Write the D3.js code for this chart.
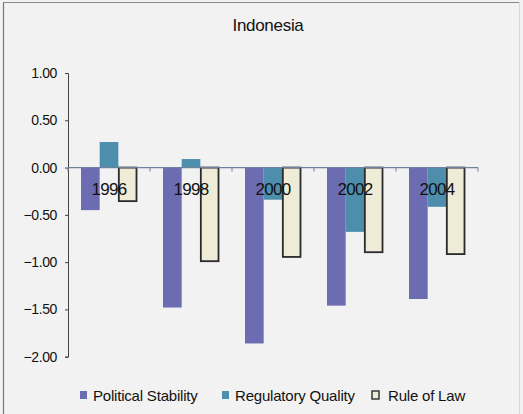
<!DOCTYPE html>
<html>
<head>
<meta charset="utf-8">
<script src="https://cdn.jsdelivr.net/npm/d3@7/dist/d3.min.js"></script>
<style>
  html, body { margin: 0; padding: 0; background: #f4f4f4; }
  svg text { font-family: "Liberation Sans", Arial, sans-serif; fill: #111; }
</style>
</head>
<body>
<svg id="chart" width="523" height="414"></svg>
<script>
// Governance indicators for Indonesia, by survey year
const years = ["1996", "1998", "2000", "2002", "2004"];
const seriesNames = ["Political Stability", "Regulatory Quality", "Rule of Law"];
const politicalStability = [-0.45, -1.48, -1.86, -1.46, -1.39];
const regulatoryQuality = [0.27, 0.09, -0.34, -0.68, -0.415];
const ruleOfLaw = [-0.355, -0.99, -0.945, -0.895, -0.915];
const yTicks = [1.0, 0.5, 0.0, -0.5, -1.0, -1.5, -2.0];

const seriesValues = [politicalStability, regulatoryQuality, ruleOfLaw];
const fills = ["#6c6cb2", "#4d8ead", "#eeecd6"];
const strokes = [null, null, "#2a2a2a"];

const svg = d3.select("#chart");

// panel background and frame
svg.append("rect").attr("x", 0).attr("y", 0).attr("width", 523).attr("height", 414).attr("fill", "#f2f2f2");
svg.append("line").attr("x1", 3.5).attr("x2", 3.5).attr("y1", 2).attr("y2", 414).attr("stroke", "#777").attr("stroke-width", 1.2);
svg.append("line").attr("x1", 3).attr("x2", 519).attr("y1", 2.5).attr("y2", 2.5).attr("stroke", "#8a8a8a").attr("stroke-width", 1);
svg.append("line").attr("x1", 519.5).attr("x2", 519.5).attr("y1", 2).attr("y2", 414).attr("stroke", "#d8d8d8").attr("stroke-width", 1);

const x0 = d3.scaleBand().domain(years).range([68, 478]).paddingInner(0).paddingOuter(0);
const x1 = d3.scaleBand().domain(seriesNames).range([13, 69]).padding(0);
const y = d3.scaleLinear().domain([-2, 1]).range([356.7, 73]);

// title
svg.append("text").attr("x", 268).attr("y", 30.5).attr("text-anchor", "middle")
  .attr("font-size", 17).attr("letter-spacing", "-0.3px").text("Indonesia");

// bars
const groups = svg.append("g").selectAll("g").data(years).join("g")
  .attr("transform", d => `translate(${x0(d)},0)`);
groups.selectAll("rect")
  .data((d, i) => seriesNames.map((s, k) => ({ s, k, v: seriesValues[k][i] })))
  .join("rect")
  .attr("x", d => x1(d.s) + (d.k === 2 ? 0.5 : 0))
  .attr("width", d => x1.bandwidth() - (d.k === 2 ? 1 : 0))
  .attr("y", d => y(Math.max(0, d.v)))
  .attr("height", d => Math.abs(y(d.v) - y(0)))
  .attr("fill", d => fills[d.k])
  .attr("stroke", d => strokes[d.k])
  .attr("stroke-width", d => d.k === 2 ? 1.8 : 0);

// y axis
const yAxis = svg.append("g").attr("transform", "translate(68,0)")
  .call(d3.axisLeft(y).tickValues(yTicks).tickFormat(d3.format(".2f")).tickSize(3).tickPadding(8));
yAxis.select(".domain").attr("stroke", "#444").attr("stroke-width", 1);
yAxis.selectAll(".tick line").attr("stroke", "#444");
yAxis.selectAll(".tick text").attr("font-size", 14).attr("letter-spacing", "-0.4px")
  .style("font-family", '"Liberation Sans", Arial, sans-serif').attr("fill", "#111");

// category axis along zero line
svg.append("line").attr("x1", 68).attr("x2", 478).attr("y1", y(0)).attr("y2", y(0))
  .attr("stroke", "#6f819a").attr("stroke-width", 1.2);
svg.append("g").selectAll("line").data(d3.range(years.length + 1)).join("line")
  .attr("x1", i => 68 + i * x0.bandwidth()).attr("x2", i => 68 + i * x0.bandwidth())
  .attr("y1", y(0)).attr("y2", y(0) + 4).attr("stroke", "#6f819a");

svg.append("g").selectAll("text").data(years).join("text")
  .attr("x", d => x0(d) + x0.bandwidth() / 2)
  .attr("y", 195)
  .attr("text-anchor", "middle").attr("font-size", 17).attr("letter-spacing", "-0.7px")
  .text(d => d);

// legend
const legendX = [80, 222, 372];
const legend = svg.append("g").selectAll("g").data(seriesNames).join("g")
  .attr("transform", (d, i) => `translate(${legendX[i]},391)`);
legend.append("rect").attr("x", 0).attr("y", 0).attr("width", 7).attr("height", 8)
  .attr("fill", (d, i) => fills[i])
  .attr("stroke", (d, i) => strokes[i]).attr("stroke-width", (d, i) => i === 2 ? 1.4 : 0);
legend.append("text").attr("x", (d, i) => i === 2 ? 16 : 13).attr("y", 9.5)
  .attr("font-size", 15).attr("letter-spacing", "-0.2px").text(d => d);
</script>
</body>
</html>
